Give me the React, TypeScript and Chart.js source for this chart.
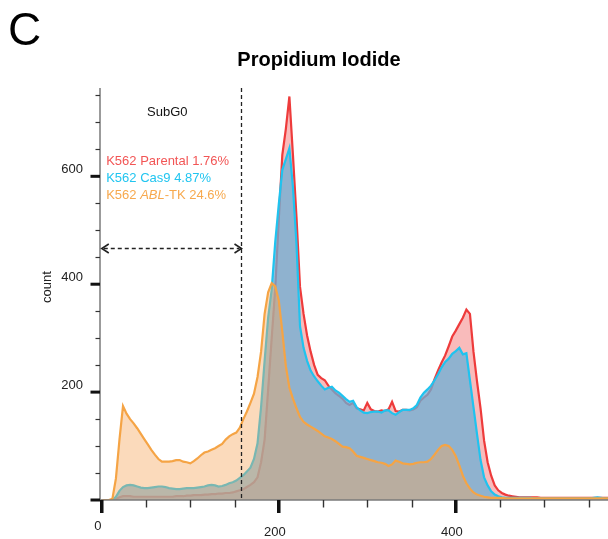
import { useEffect, useRef } from "react";
import { Chart, registerables } from "chart.js";

Chart.register(...registerables);

// PI channel bins (linear, 4-channel bins)
const channels = [
  0, 4, 8, 12, 16, 20, 24, 28, 32, 36, 40, 44, 48, 52, 56, 60, 64, 68, 72, 76,
  80, 84, 88, 92, 96, 100, 104, 108, 112, 116, 120, 124, 128, 132, 136, 140, 144, 148, 152, 156,
  160, 164, 168, 172, 176, 180, 184, 188, 192, 196, 200, 204, 208, 212, 216, 220, 224, 228, 232, 236,
  240, 244, 248, 252, 256, 260, 264, 268, 272, 276, 280, 284, 288, 292, 296, 300, 304, 308, 312, 316,
  320, 324, 328, 332, 336, 340, 344, 348, 352, 356, 360, 364, 368, 372, 376, 380, 384, 388, 392, 396,
  400, 404, 408, 412, 416, 420, 424, 428, 432, 436, 440, 444, 448, 452, 456, 460, 464, 468, 472, 476,
  480, 484, 488, 492, 496, 500, 504, 508, 512, 516, 520, 524, 528, 532, 536, 540, 544, 548, 552, 556,
  560, 564, 568, 572,
];

// K562 ABL-TK counts per bin
const ablTk = [
  0, 0, 0, 2, 40, 112, 174, 160, 150, 142, 133, 123, 113, 103, 93, 84, 76, 71, 71, 71,
  72, 74, 74, 71, 70, 68, 72, 77, 83, 88, 90, 93, 96, 100, 104, 112, 118, 122, 125, 134,
  150, 164, 180, 197, 228, 275, 345, 385, 402, 396, 370, 312, 248, 208, 188, 170, 154, 145, 140, 136,
  132, 128, 123, 118, 116, 113, 109, 104, 99, 98, 96, 90, 82, 80, 78, 76, 74, 72, 70, 69,
  67, 63, 66, 73, 71, 68, 67, 66, 67, 69, 70, 70, 71, 76, 84, 93, 100, 102, 100, 93,
  81, 64, 45, 31, 21, 14, 10, 8, 6, 5, 4, 4, 4, 4, 3, 3, 3, 3, 3, 3,
  3, 3, 3, 3, 3, 3, 3, 3, 3, 3, 3, 3, 3, 3, 3, 3, 3, 3, 3, 3,
  3, 3, 3, 3,
];

// K562 Cas9 counts per bin
const cas9 = [
  0, 0, 0, 0, 6, 17, 24, 27, 28, 27, 25, 23, 22, 22, 23, 24, 25, 25, 24, 22,
  21, 20, 20, 21, 22, 22, 22, 23, 24, 25, 27, 28, 27, 25, 26, 28, 31, 33, 36, 41,
  46, 53, 60, 76, 105, 172, 258, 338, 390, 478, 548, 612, 632, 652, 580, 475, 322, 282, 258, 240,
  229, 220, 212, 205, 208, 210, 203, 199, 193, 187, 182, 184, 172, 166, 162, 161, 163, 164, 164, 162,
  166, 166, 161, 158, 163, 167, 167, 167, 170, 176, 190, 199, 205, 212, 222, 233, 246, 256, 262, 271,
  276, 282, 270, 272, 222, 172, 122, 74, 42, 27, 16, 10, 7, 5, 4, 4, 4, 4, 4, 4,
  4, 4, 3, 3, 3, 3, 3, 3, 3, 3, 3, 3, 3, 3, 3, 3, 3, 3, 3, 4,
  5, 4, 3, 3,
];

// K562 Parental counts per bin
const parental = [
  0, 0, 0, 0, 2, 5, 7, 7, 7, 6, 6, 6, 6, 6, 6, 6, 6, 6, 6, 6,
  6, 7, 7, 7, 8, 8, 9, 9, 9, 10, 10, 11, 11, 12, 12, 13, 13, 14, 16, 18,
  20, 24, 28, 33, 42, 70, 112, 205, 300, 392, 520, 640, 688, 748, 640, 525, 395, 345, 305, 275,
  250, 232, 226, 222, 212, 205, 198, 193, 188, 180, 176, 180, 170, 168, 166, 180, 168, 165, 164, 166,
  165, 168, 182, 165, 164, 167, 167, 166, 168, 172, 184, 190, 195, 205, 224, 240, 255, 268, 285, 303,
  314, 326, 338, 353, 345, 275, 220, 170, 110, 70, 45, 27, 18, 13, 10, 8, 7, 6, 5, 5,
  5, 5, 5, 5, 4, 4, 4, 4, 4, 4, 4, 4, 4, 4, 4, 4, 4, 4, 4, 4,
  4, 4, 4, 4,
];

const xMajorTicks = [0, 200, 400];
const xMinorTicks = [50, 100, 150, 250, 300, 350, 450, 500, 550];
const yMajorTicks = [0, 200, 400, 600];
const yMinorTicks = [50, 100, 150, 250, 300, 350, 450, 500, 550, 650, 700, 750];

const subG0Gate = 157.5;
const subG0ArrowLevel = 467;

const sampleLabels = ["K562 Parental 1.76%", "K562 Cas9 4.87%", "K562 ABL-TK 24.6%"];

const FONT = '"Liberation Sans", Arial, Helvetica, sans-serif';

const colors = {
  parentalLine: "#ee3b3b",
  parentalFill: "rgba(240, 85, 85, 0.40)",
  cas9Line: "#1fc3ef",
  cas9Fill: "rgba(105, 175, 215, 0.74)",
  ablLine: "#f5a445",
  ablFill: "rgba(246, 168, 92, 0.42)",
  parentalText: "#f25555",
  cas9Text: "#21c5f0",
  ablText: "#f7a94e",
};

const histogramFrame = {
  id: "histogramFrame",
  afterDatasetsDraw(chart: any) {
    const { ctx, chartArea, scales } = chart;
    const xs = scales.x;
    const ys = scales.y;
    const axisX = chartArea.left;
    const baseY = ys.getPixelForValue(0);

    ctx.save();

    // axis lines
    ctx.strokeStyle = "#7a7a7a";
    ctx.lineWidth = 1.5;
    ctx.beginPath();
    ctx.moveTo(axisX, chartArea.top - 2);
    ctx.lineTo(axisX, baseY);
    ctx.stroke();
    ctx.beginPath();
    ctx.moveTo(axisX - 8, baseY);
    ctx.lineTo(chartArea.right, baseY);
    ctx.stroke();

    // y ticks
    ctx.strokeStyle = "#333";
    ctx.lineWidth = 1.2;
    for (const v of yMinorTicks) {
      const py = Math.round(ys.getPixelForValue(v)) + 0.5;
      ctx.beginPath();
      ctx.moveTo(axisX - 4.5, py);
      ctx.lineTo(axisX, py);
      ctx.stroke();
    }
    ctx.strokeStyle = "#111";
    ctx.lineWidth = 3;
    ctx.font = `13px ${FONT}`;
    ctx.fillStyle = "#222";
    ctx.textAlign = "right";
    ctx.textBaseline = "middle";
    for (const v of yMajorTicks) {
      const py = ys.getPixelForValue(v);
      ctx.beginPath();
      ctx.moveTo(axisX - 9.5, py);
      ctx.lineTo(axisX, py);
      ctx.stroke();
      if (v > 0) ctx.fillText(String(v), axisX - 17, py - 7);
    }

    // x ticks
    ctx.strokeStyle = "#333";
    ctx.lineWidth = 1.4;
    for (const v of xMinorTicks) {
      const px = Math.round(xs.getPixelForValue(v)) + 0.5;
      ctx.beginPath();
      ctx.moveTo(px, baseY);
      ctx.lineTo(px, baseY + 7.5);
      ctx.stroke();
    }
    ctx.strokeStyle = "#111";
    ctx.lineWidth = 3.5;
    ctx.textAlign = "center";
    for (const v of xMajorTicks) {
      const px = xs.getPixelForValue(v);
      ctx.beginPath();
      ctx.moveTo(px, baseY);
      ctx.lineTo(px, baseY + 13);
      ctx.stroke();
      ctx.fillText(String(v), px - 4, v === 0 ? baseY + 26 : baseY + 32);
    }

    // axis title
    ctx.save();
    ctx.translate(47, 287);
    ctx.rotate(-Math.PI / 2);
    ctx.textAlign = "center";
    ctx.fillText("count", 0, 0);
    ctx.restore();

    // SubG0 gate
    const gx = Math.round(xs.getPixelForValue(subG0Gate)) + 0.5;
    ctx.strokeStyle = "#222";
    ctx.lineWidth = 1.3;
    ctx.setLineDash([4, 3]);
    ctx.beginPath();
    ctx.moveTo(gx, chartArea.top - 2);
    ctx.lineTo(gx, baseY);
    ctx.stroke();

    const ay = Math.round(ys.getPixelForValue(subG0ArrowLevel)) + 0.5;
    const ax0 = xs.getPixelForValue(0);
    ctx.beginPath();
    ctx.moveTo(ax0 + 2, ay);
    ctx.lineTo(gx - 2, ay);
    ctx.stroke();
    ctx.setLineDash([]);
    ctx.lineWidth = 1.6;
    ctx.beginPath();
    ctx.moveTo(ax0 + 7, ay - 4.5);
    ctx.lineTo(ax0, ay);
    ctx.lineTo(ax0 + 7, ay + 4.5);
    ctx.moveTo(gx - 7, ay - 4.5);
    ctx.lineTo(gx, ay);
    ctx.lineTo(gx - 7, ay + 4.5);
    ctx.stroke();

    ctx.fillStyle = "#111";
    ctx.font = `13px ${FONT}`;
    ctx.textAlign = "center";
    ctx.textBaseline = "middle";
    ctx.fillText("SubG0", xs.getPixelForValue(74), ys.getPixelForValue(718));

    // sample percentages
    ctx.textAlign = "left";
    const tx = xs.getPixelForValue(5);
    ctx.fillStyle = colors.parentalText;
    ctx.fillText(sampleLabels[0], tx, ys.getPixelForValue(627));
    ctx.fillStyle = colors.cas9Text;
    ctx.fillText(sampleLabels[1], tx, ys.getPixelForValue(596));
    ctx.fillStyle = colors.ablText;
    const y3 = ys.getPixelForValue(565);
    const [pre, rest] = ["K562 ", "-TK 24.6%"];
    ctx.fillText(pre, tx, y3);
    let cx = tx + ctx.measureText(pre).width;
    ctx.font = `italic 13px ${FONT}`;
    ctx.fillText("ABL", cx, y3);
    cx += ctx.measureText("ABL").width;
    ctx.font = `13px ${FONT}`;
    ctx.fillText(rest, cx, y3);

    // panel letter and title
    ctx.fillStyle = "#000";
    ctx.textAlign = "left";
    ctx.textBaseline = "alphabetic";
    ctx.font = `46px ${FONT}`;
    ctx.fillText("C", 8, 45);
    ctx.font = `bold 20px ${FONT}`;
    ctx.textAlign = "center";
    ctx.fillText("Propidium Iodide", 319, 66);

    ctx.restore();
  },
};

export default function App() {
  const canvasRef = useRef<HTMLCanvasElement | null>(null);

  useEffect(() => {
    const canvas = canvasRef.current;
    if (!canvas) return;
    const series = (vals: number[]) => channels.map((x, i) => ({ x, y: vals[i] }));
    const chart = new Chart(canvas, {
      type: "line",
      data: {
        datasets: [
          {
            label: "K562 ABL-TK",
            data: series(ablTk),
            borderColor: colors.ablLine,
            backgroundColor: colors.ablFill,
            borderWidth: 2.2,
            fill: "origin",
            pointRadius: 0,
            tension: 0,
          },
          {
            label: "K562 Cas9",
            data: series(cas9),
            borderColor: colors.cas9Line,
            backgroundColor: colors.cas9Fill,
            borderWidth: 2.2,
            fill: "origin",
            pointRadius: 0,
            tension: 0,
          },
          {
            label: "K562 Parental",
            data: series(parental),
            borderColor: colors.parentalLine,
            backgroundColor: colors.parentalFill,
            borderWidth: 2.2,
            fill: "origin",
            pointRadius: 0,
            tension: 0,
          },
        ],
      },
      options: {
        responsive: false,
        animation: false,
        layout: { padding: { left: 100, top: 90, right: 0, bottom: 39 } },
        scales: {
          x: { type: "linear", min: -2, max: 572, display: false },
          y: { type: "linear", min: 0, max: 760, display: false },
        },
        plugins: {
          legend: { display: false },
          title: { display: false },
          tooltip: { enabled: false },
        },
      },
      plugins: [histogramFrame],
    });
    return () => chart.destroy();
  }, []);

  return (
    <div style={{ position: "absolute", left: 0, top: 0, width: 608, height: 539, background: "#fff" }}>
      <canvas ref={canvasRef} width={608} height={539} />
    </div>
  );
}
